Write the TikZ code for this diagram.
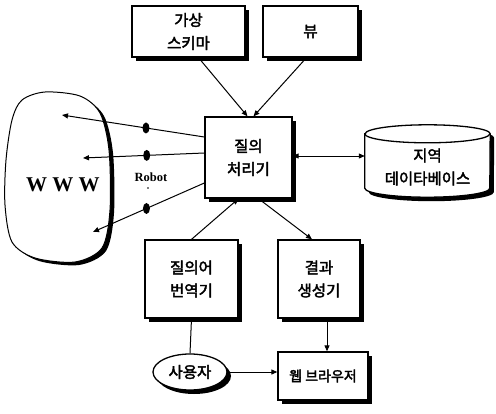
\documentclass[tikz,border=0pt]{standalone}
\usepackage{fontspec}
\newfontfamily\kr{Noto Sans CJK KR}[BoldFont={Noto Sans CJK KR}, BoldFeatures={FakeBold=2.5}]
\newfontfamily\tms{Liberation Serif}
\usetikzlibrary{shadows,arrows.meta,calc,shapes.geometric}
\begin{document}
\begin{tikzpicture}[x=1pt,y=1pt,
  krf/.style={font=\kr\bfseries\fontsize{15.5}{23}\selectfont},
  box/.style={draw, line width=1.3pt, fill=white, inner sep=0pt, align=center, krf,
    drop shadow={shadow xshift=4pt, shadow yshift=-4pt, fill=black, opacity=1}},
  conn/.style={line width=1pt},
  tip/.style={-{Triangle[length=6pt,width=5pt]}},
  dtip/.style={{Triangle[length=6pt,width=5pt]}-{Triangle[length=6pt,width=5pt]}},
  dot/.style={ellipse, fill=black, minimum width=7pt, minimum height=11pt, inner sep=0pt}
]
\useasboundingbox[fill=white] (0,0) rectangle (496,-413);

% top boxes
\node[box, minimum width=113pt, minimum height=51pt] (vs) at (188.5,-31.5) {가상\\스키마};
\node[box, minimum width=95pt, minimum height=51pt] (view) at (310.5,-31.5) {뷰};
% query processor
\node[box, minimum width=87pt, minimum height=81pt] (qp) at (248.5,-157.5) {질의\\처리기};
% lower boxes
\node[box, minimum width=93pt, minimum height=78pt] (tr) at (191.5,-279) {질의어\\번역기};
\node[box, minimum width=82pt, minimum height=78pt] (rg) at (319,-279) {결과\\생성기};
\node[box, ellipse, minimum width=74pt, minimum height=36pt] (user) at (190,-372) {사용자};
\node[box, minimum width=90pt, minimum height=48pt, font=\kr\bfseries\fontsize{14}{20}\selectfont] (wb) at (323,-376) {웹 브라우저};

% local database cylinder
\node[minimum width=125pt, minimum height=72pt, inner sep=0pt] (db) at (427.5,-161) {};
\fill[black] ($(db.north west)+(4,-13)$) -- ($(db.south west)+(4,5)$)
  arc[start angle=180,end angle=360,x radius=62.5,y radius=9]
  -- ($(db.north east)+(4,-13)$)
  arc[start angle=0,end angle=180,x radius=62.5,y radius=9] -- cycle;
\filldraw[fill=white, line width=1.3pt] ($(db.north west)+(0,-9)$) -- ($(db.south west)+(0,9)$)
  arc[start angle=180,end angle=360,x radius=62.5,y radius=9]
  -- ($(db.north east)+(0,-9)$)
  arc[start angle=0,end angle=180,x radius=62.5,y radius=9] -- cycle;
\draw[line width=1.3pt] ($(db.north west)+(0,-9)$) arc[start angle=180,end angle=360,x radius=62.5,y radius=9];
\node[krf, align=center] (dbt) at ($(db.center)+(0,-6)$) {지역\\데이타베이스};

% WWW blob
\fill[black] plot[smooth cycle, shift={(4,-3)}] coordinates {(22,-100) (45,-92) (80,-96) (100,-113) (109,-150) (110,-210) (102,-248) (75,-262) (35,-258) (12,-242) (5,-205) (6,-160) (12,-120)};
\filldraw[fill=white, line width=1pt] plot[smooth cycle] coordinates {(22,-100) (45,-92) (80,-96) (100,-113) (109,-150) (110,-210) (102,-248) (75,-262) (35,-258) (12,-242) (5,-205) (6,-160) (12,-120)};
\node[font=\tms\bfseries\fontsize{21}{24}\selectfont] (www) at (63,-185) {W W W};
\coordinate (w1) at (62,-115);
\coordinate (w2) at (83,-158);
\coordinate (w3) at (93,-232);

% robot arrows
\draw[conn,tip] ($(qp.west)+(0,20.5)$) -- node[dot,pos=0.41] (d1) {} (w1);
\draw[conn,tip] ($(qp.west)+(0,4.5)$) -- node[dot,pos=0.475] (d2) {} (w2);
\draw[conn,tip] ($(qp.west)+(0,-25.5)$) -- node[dot,pos=0.52] (d3) {} (w3);
\node[font=\tms\bfseries\fontsize{12.5}{14}\selectfont] (robot) at (151,-177) {Robot};
\fill (148,-188) circle[radius=0.9];

% connectors
\draw[conn,tip] ($(vs.south)+(10,0)$) -- ($(qp.north)+(-1,0)$);
\draw[conn,tip] ($(view.south)+(-4,0)$) -- ($(qp.north)+(5,0)$);
\draw[conn,dtip] (qp.east |- 0,-156) -- (db.west |- 0,-156);
\draw[conn,tip] ($(tr.north)+(0,0)$) -- ($(qp.south)+(-10,0)$);
\draw[conn,tip] ($(qp.south)+(10,0)$) -- ($(rg.north)+(-7,0)$);
\draw[conn] (tr.south) -- (user.north);
\draw[conn,tip] (rg.south -| wb.north) ++(4,0) -- ($(wb.north)+(4,0)$);
\draw[conn,tip] (user.east) -- (wb.west |- user.east);
\end{tikzpicture}
\end{document}
